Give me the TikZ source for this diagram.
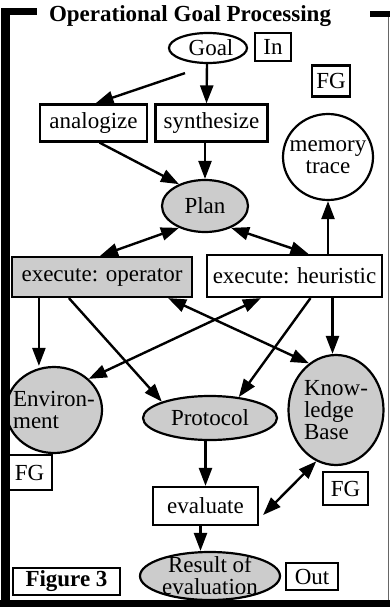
\documentclass[tikz,border=0pt]{standalone}
\usepackage{fontspec}
\setmainfont{Liberation Serif}
\usetikzlibrary{arrows.meta,calc,shapes.geometric}
\tikzset{
  box/.style={draw,line width=2.2pt,rectangle,inner sep=0pt,font=\fontsize{23}{22}\selectfont},
  ell/.style={draw,line width=2.2pt,ellipse,inner sep=0pt,font=\fontsize{23}{22}\selectfont},
  shade/.style={fill=black!20},
  arr/.style={line width=2.4pt,-{Triangle[length=18pt,width=13pt]}},
  darr/.style={line width=2.4pt,{Triangle[length=18pt,width=13pt]}-{Triangle[length=18pt,width=13pt]}},
  frame/.style={fill=black,draw=none}
}
\begin{document}
\begin{tikzpicture}[x=1pt,y=-1pt]
\useasboundingbox (0,0) rectangle (390,607);
% nodes
\node[ell,minimum width=78pt,minimum height=30pt] (goal) at (208,48) {\hspace*{6pt}Goal};
\node[box,minimum width=36pt,minimum height=28pt] (in) at (273,47) {In};
\node[box,minimum width=38pt,minimum height=31pt] (fga) at (331,81) {FG};
\node[box,minimum width=107pt,minimum height=37pt] (analogize) at (93.5,123) {analogize};
\node[box,minimum width=112pt,minimum height=37pt] (synthesize) at (211.5,123) {synthesize};
\node[ell,inner xsep=-8pt,minimum width=90pt,minimum height=86pt,align=center] (memory) at (328,157) {memory\\trace};
\node[ell,shade,minimum width=86pt,minimum height=52pt] (plan) at (205,206) {Plan};
\node[box,shade,minimum width=180pt,minimum height=40pt] (op) at (102,277) {execute: operator};
\node[box,minimum width=175pt,minimum height=42pt] (heur) at (294.5,276) {execute: heuristic};
\node[ell,shade,inner xsep=-10pt,minimum width=96pt,minimum height=86pt,align=left] (env) at (54,410) {Environ-\\ment};
\node[ell,shade,minimum width=134pt,minimum height=44pt] (prot) at (210,418) {Protocol};
\node[ell,shade,inner sep=-3pt,minimum width=95pt,minimum height=110pt,align=left] (kb) at (336,410) {Know-\\ledge\\Base};
\node[box,minimum width=45pt,minimum height=35pt] (fgb) at (29.5,472.5) {FG};
\node[box,minimum width=45pt,minimum height=33pt] (fgc) at (345.5,488.5) {FG};
\node[box,minimum width=105pt,minimum height=38pt] (eval) at (205.5,506) {evaluate};
\node[ell,shade,inner ysep=-7pt,inner xsep=-2pt,minimum width=140pt,minimum height=48pt,align=center] (result) at (210,576) {Result of\\evaluation};
\node[box,minimum width=52pt,minimum height=27pt] (out) at (312,576.5) {Out};
\node[box,minimum width=107pt,minimum height=27pt,font=\fontsize{23}{22}\selectfont\bfseries] (fig) at (66.5,581.5) {Figure 3};
% connectors
\draw[arr] ($(goal.south)+(-23,9)$) -- ($(analogize.north)+(2,0)$);
\draw[arr] ($(goal.south)+(-1,0)$) -- ($(synthesize.north)+(-5,0)$);
\draw[arr] ($(analogize.south)+(6,0)$) -- (plan.140);
\draw[arr] (plan.north |- synthesize.south) -- (plan.north);
\draw[darr] (plan.220) -- ($(op.north)+(-2,0)$);
\draw[darr] (plan.-40) -- ($(heur.north)+(14,0)$);
\draw[arr] (heur.north -| memory.south) -- (memory.south);
\coordinate (opl) at ($(op.south west)+(28,0)$);
\draw[arr] (opl) -- (opl |- env.north);
\draw[arr] ($(op.south west)+(58,0)$) -- (prot.north west);
\draw[darr] ($(heur.south west)+(55,0)$) -- (env.north east);
\draw[darr] ($(op.south east)+(-25,0)$) -- (kb.120);
\draw[arr] ($(heur.south)+(16,0)$) -- (prot.36);
\coordinate (hr) at ($(heur.south)+(38,0)$);
\draw[arr] (hr) -- (hr |- kb.north);
\draw[arr] (eval.north |- prot.south) -- (eval.north);
\draw[darr] ($(eval.east)+(4,9)$) -- (kb.-111);
\coordinate (ev) at ($(eval.south)+(-5,0)$);
\draw[arr] (ev) -- (ev |- result.north);
% frame
\fill[frame] (1,8) rectangle (10,607);
\fill[frame] (1,8) rectangle (37,15);
\fill[frame] (370,11) rectangle (390,17);
\fill[frame] (0,600) rectangle (390,607);
\draw[black!60,line width=1pt] (388,17) -- (388,600);
\node[anchor=base,font=\fontsize{23}{23}\selectfont\bfseries,inner sep=0pt] (title) at (190,22) {Operational Goal Processing};
\end{tikzpicture}
\end{document}
